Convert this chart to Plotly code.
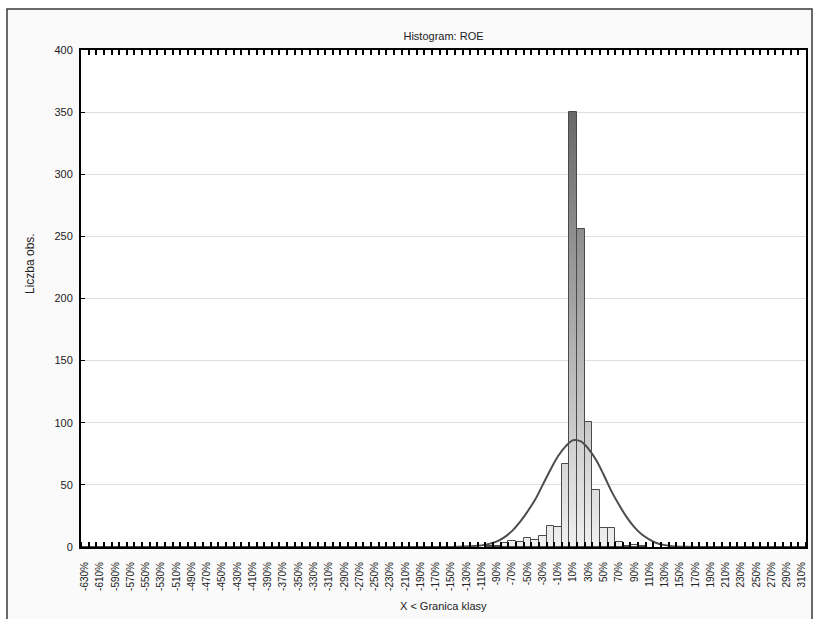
import plotly.graph_objects as go

# Class upper bounds (%) and counts
bin_upper = list(range(-630, 320, 10))  # 95 classes
counts = [0] * 53 + [
    1,    # -100%
    1,    # -90%
    3,    # -80%
    5,    # -70%
    4,    # -60%
    7,    # -50%
    6,    # -40%
    9,    # -30%
    17,   # -20%
    16,   # -10%
    67,   # 0%
    350,  # 10%
    256,  # 20%
    101,  # 30%
    46,   # 40%
    15,   # 50%
    15,   # 60%
    4,    # 70%
    1,    # 80%
    2,    # 90%
    1,    # 100%
] + [0] * 21

tick_labels_vals = bin_upper[::2]
tick_labels_text = [f"{v}%" for v in tick_labels_vals]

# Fitted normal curve
curve_x = [-635, -160, -140, -120, -110, -100, -90, -80, -70, -60, -50, -40, -30, -20, -10,
           0, 10, 20, 30, 40, 50, 60, 70, 80, 90, 100, 110, 120, 130, 140, 160, 315]
curve_y = [0, 0.1, 0.3, 0.8, 1.3, 2.5, 4.5, 8, 13, 20, 28.5, 38, 50, 62, 73,
           81, 86, 85, 79, 70, 58, 45, 34, 24, 16, 10, 6, 3, 1.5, 0.7, 0.2, 0]

fig = go.Figure()

band = 5
top_level = 350
def level_color(v):
    c0, c1 = 240, 104
    t = min(max(v / top_level, 0), 1)
    g = int(round(c0 + (c1 - c0) * t))
    return f"rgb({g},{g},{g})"

maxc = max(counts)
k = 0
while k * band < maxc:
    lo = k * band
    ys = []
    for c in counts:
        h = min(c - lo, band)
        ys.append(h if h > 0 else None)
    fig.add_trace(go.Bar(
        x=bin_upper, y=ys, base=lo, width=10,
        marker=dict(color=level_color(lo + band / 2), line=dict(width=0)),
        hoverinfo="skip", showlegend=False))
    k += 1

fig.add_trace(go.Bar(
    x=bin_upper, y=[c if c > 0 else None for c in counts], width=10,
    marker=dict(color="rgba(0,0,0,0)", line=dict(color="#4a4a4a", width=1)),
    showlegend=False))

fig.add_trace(go.Scatter(
    x=curve_x, y=curve_y, mode="lines",
    line=dict(color="#4d4d4d", width=2, shape="spline", smoothing=1.0),
    showlegend=False, hoverinfo="skip"))

# invisible trace to carry the top tick axis
fig.add_trace(go.Scatter(x=[bin_upper[0]], y=[0], xaxis="x2", mode="markers",
                         marker=dict(opacity=0), showlegend=False, hoverinfo="skip"))

font = "Liberation Sans, Arial, sans-serif"

fig.update_layout(
    width=819, height=619,
    margin=dict(l=81, r=13, t=50, b=72),
    paper_bgcolor="white",
    plot_bgcolor="white",
    barmode="overlay",
    bargap=0,
    font=dict(family=font, size=11, color="#222222"),
    title=dict(text="Histogram: ROE", x=0.5, xref="paper", xanchor="center",
               y=1 - 36 / 619, yref="container", yanchor="middle",
               font=dict(size=11, family=font, color="#222222")),
    xaxis=dict(
        range=[-635, 315],
        tickmode="array", tickvals=tick_labels_vals, ticktext=tick_labels_text,
        tickangle=-90, ticks="", tickfont=dict(size=10, family=font, color="#222222"),
        ticklabelstandoff=9,
        showgrid=False, zeroline=False,
        showline=True, linecolor="black", linewidth=2, mirror=True,
        minor=dict(ticks="inside", tickmode="linear", tick0=-635, dtick=10,
                   ticklen=5, tickwidth=2, tickcolor="black", showgrid=False),
    ),
    xaxis2=dict(
        range=[-635, 315], overlaying="x", side="top", anchor="y",
        tickmode="linear", tick0=-635, dtick=10,
        ticks="inside", ticklen=5, tickwidth=2, tickcolor="black",
        showticklabels=False, showgrid=False, zeroline=False, showline=False,
    ),
    yaxis=dict(
        range=[0, 400], tickmode="array", tickvals=list(range(0, 401, 50)),
        ticks="inside", ticklen=4, tickcolor="black", tickwidth=1,
        tickfont=dict(size=11, family=font, color="#222222"),
        ticklabelstandoff=4,
        showgrid=True, gridcolor="#dedede", gridwidth=1, zeroline=False,
        showline=True, linecolor="black", linewidth=2, mirror=True,
    ),
    shapes=[
        dict(type="rect", xref="paper", yref="paper",
             x0=(7 - 81) / 725, x1=(812 - 81) / 725,
             y0=(547 - 650) / 497, y1=(547 - 9) / 497,
             line=dict(color="#3a3a3a", width=1.5), fillcolor="#fafafa", layer="below"),
        dict(type="rect", xref="paper", yref="paper", x0=0, x1=1, y0=0, y1=1,
             line=dict(width=0), fillcolor="white", layer="below"),
    ],
    annotations=[
        dict(text="X < Granica klasy", xref="paper", yref="paper",
             x=0.5, y=(547 - 606) / 497, xanchor="center", yanchor="middle",
             showarrow=False, font=dict(size=11, family=font, color="#222222")),
        dict(text="Liczba obs.", xref="paper", yref="paper",
             x=(30 - 81) / 725, y=(547 - 264) / 497, xanchor="center", yanchor="middle",
             textangle=-90, showarrow=False, font=dict(size=12, family=font, color="#222222")),
    ],
)

fig.write_html("out.html")
